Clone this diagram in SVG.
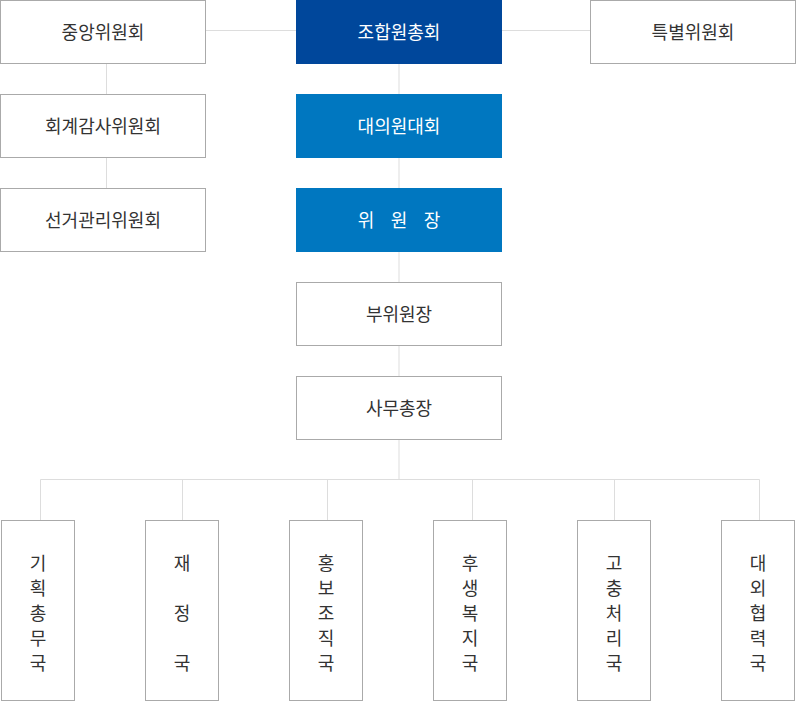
<svg xmlns="http://www.w3.org/2000/svg" width="796" height="701" viewBox="0 0 796 701">
<style>
.bx{fill:#fff;stroke:#aaaaaa;stroke-width:1}
.dk{fill:#00479b}
.md{fill:#0077c0}
.t{font-family:"Noto Sans CJK KR","Noto Sans",sans-serif;font-size:18px;fill:#333;text-anchor:middle;dominant-baseline:central}
.w{fill:#fff}
.ln{stroke:#dddddd;stroke-width:1;fill:none}
</style>
<rect width="796" height="701" fill="#fff"/>
<g id="connectors">
<path class="ln" d="M206,30.5H296M502,30.5H591M106.5,63V94M106.5,157V188M399,63V94M399,157V188M399,251V282M399,345V376M399,439V479.5M40.5,479.5H759.5M40.5,479.5V520M182.5,479.5V520M327.5,479.5V520M472.5,479.5V520M614.5,479.5V520M759.5,479.5V520"/>
</g>
<g id="n-central"><rect class="bx" x="0.5" y="0.5" width="205" height="63"/><text class="t" x="103" y="31">중앙위원회</text></g>
<g id="n-audit"><rect class="bx" x="0.5" y="94.5" width="205" height="63"/><text class="t" x="103" y="125">회계감사위원회</text></g>
<g id="n-election"><rect class="bx" x="0.5" y="188.5" width="205" height="63"/><text class="t" x="103" y="219">선거관리위원회</text></g>
<g id="n-general"><rect class="dk" x="296" y="0" width="206" height="64"/><text class="t w" x="399" y="31">조합원총회</text></g>
<g id="n-delegates"><rect class="md" x="296" y="94" width="206" height="64"/><text class="t w" x="399" y="125">대의원대회</text></g>
<g id="n-chair"><rect class="md" x="296" y="188" width="206" height="64"/><text class="t w" y="219"><tspan x="366">위</tspan><tspan x="399">원</tspan><tspan x="432">장</tspan></text></g>
<g id="n-vice"><rect class="bx" x="296.5" y="282.5" width="205" height="63"/><text class="t" x="399" y="313">부위원장</text></g>
<g id="n-secgen"><rect class="bx" x="296.5" y="376.5" width="205" height="63"/><text class="t" x="399" y="407">사무총장</text></g>
<g id="n-special"><rect class="bx" x="590.5" y="0.5" width="205" height="63"/><text class="t" x="693" y="31">특별위원회</text></g>
<g id="n-plan"><rect class="bx" x="1.5" y="520.5" width="73" height="180"/><text class="t" x="38" y="562"><tspan x="38" y="562">기</tspan><tspan x="38" y="587">획</tspan><tspan x="38" y="612">총</tspan><tspan x="38" y="637">무</tspan><tspan x="38" y="662">국</tspan></text></g>
<g id="n-finance"><rect class="bx" x="145.5" y="520.5" width="73" height="180"/><text class="t" x="182" y="562"><tspan x="182" y="562">재</tspan><tspan x="182" y="612">정</tspan><tspan x="182" y="662">국</tspan></text></g>
<g id="n-pr"><rect class="bx" x="289.5" y="520.5" width="73" height="180"/><text class="t" x="326" y="562"><tspan x="326" y="562">홍</tspan><tspan x="326" y="587">보</tspan><tspan x="326" y="612">조</tspan><tspan x="326" y="637">직</tspan><tspan x="326" y="662">국</tspan></text></g>
<g id="n-welfare"><rect class="bx" x="433.5" y="520.5" width="73" height="180"/><text class="t" x="470" y="562"><tspan x="470" y="562">후</tspan><tspan x="470" y="587">생</tspan><tspan x="470" y="612">복</tspan><tspan x="470" y="637">지</tspan><tspan x="470" y="662">국</tspan></text></g>
<g id="n-grievance"><rect class="bx" x="577.5" y="520.5" width="73" height="180"/><text class="t" x="614" y="562"><tspan x="614" y="562">고</tspan><tspan x="614" y="587">충</tspan><tspan x="614" y="612">처</tspan><tspan x="614" y="637">리</tspan><tspan x="614" y="662">국</tspan></text></g>
<g id="n-external"><rect class="bx" x="721.5" y="520.5" width="73" height="180"/><text class="t" x="758" y="562"><tspan x="758" y="562">대</tspan><tspan x="758" y="587">외</tspan><tspan x="758" y="612">협</tspan><tspan x="758" y="637">력</tspan><tspan x="758" y="662">국</tspan></text></g>
</svg>
